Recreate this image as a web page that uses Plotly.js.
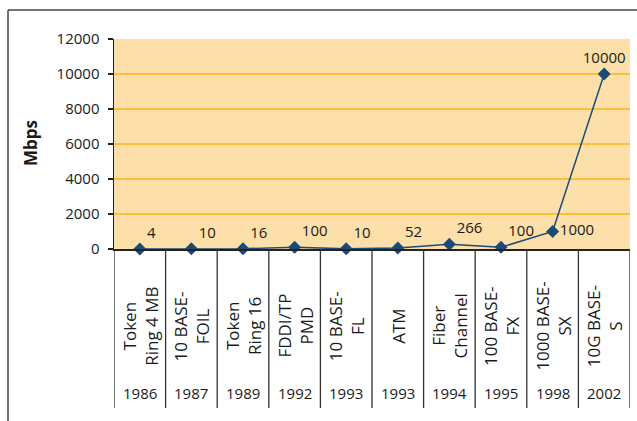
<!DOCTYPE html>
<html>
<head>
<meta charset="utf-8">
<script src="https://cdn.plot.ly/plotly-3.0.1.min.js"></script>
<style>html,body{margin:0;padding:0;background:#fff;}#chart{width:637px;height:421px;}</style>
</head>
<body>
<div id="chart"></div>
<script>
var names = ["Token<br>Ring 4 MB", "10 BASE-<br>FOIL", "Token<br>Ring 16", "FDDI/TP<br>PMD", "10 BASE-<br>FL", "ATM", "Fiber<br>Channel", "100 BASE-<br>FX", "1000 BASE-<br>SX", "10G BASE-<br>S"];
var years = ["1986", "1987", "1989", "1992", "1993", "1993", "1994", "1995", "1998", "2002"];
var mbps = [4, 10, 16, 100, 10, 52, 266, 100, 1000, 10000];
var yTicks = [0, 2000, 4000, 6000, 8000, 10000, 12000];

var idx = names.map(function(_, i){ return i; });
var positions = mbps.map(function(v, i){
  if (i === names.length - 1) return "top center";
  if (i === names.length - 2) return "middle right";
  return "top right";
});

var FONT = "Open Sans, Noto Sans, sans-serif";
var TXT = "#1a1a1a";
var trace = {
  x: idx, y: mbps, mode: "lines+markers+text", type: "scatter",
  text: mbps.map(String), textposition: positions,
  textfont: {family: FONT, size: 15, color: TXT},
  line: {color: "#1A4A7A", width: 1.5},
  marker: {symbol: "diamond", size: 10, color: "#1A4A7A"},
  cliponaxis: false, hoverinfo: "none"
};

var shapes = [];
var annotations = [];
var yLineBottom = (249 - 408) / 210;
for (var i = 0; i <= names.length; i++) {
  shapes.push({type: "line", xref: "x", yref: "paper", x0: i - 0.5, x1: i - 0.5, y0: 0, y1: yLineBottom,
    line: {color: "#333", width: 1.3}});
}
for (var j = 0; j < names.length; j++) {
  annotations.push({xref: "x", yref: "paper", x: j, y: (249 - 326) / 210, text: names[j], textangle: -90,
    showarrow: false, xanchor: "center", yanchor: "middle", align: "center",
    font: {family: FONT, size: 17, color: TXT}});
  annotations.push({xref: "x", yref: "paper", x: j, y: (249 - 393) / 210, text: years[j],
    showarrow: false, xanchor: "center", yanchor: "middle",
    font: {family: FONT, size: 15, color: TXT}});
}
annotations.push({xref: "paper", yref: "paper", x: (30 - 114) / 516, y: (249 - 143) / 210, text: "<b>Mbps</b>",
  textangle: -90, showarrow: false, xanchor: "center", yanchor: "middle",
  font: {family: FONT, size: 17, color: TXT}});
// outer frame (left and top edges)
var fx0 = (8 - 114) / 516, fx1 = (640 - 114) / 516, fyT = (249 - 10) / 210, fyB = (249 - 425) / 210;
shapes.push({type: "line", xref: "paper", yref: "paper", x0: fx0, x1: fx0, y0: fyB, y1: fyT, line: {color: "#444", width: 1.5}});
shapes.push({type: "line", xref: "paper", yref: "paper", x0: fx0, x1: fx1, y0: fyT, y1: fyT, line: {color: "#444", width: 1.5}});

var layout = {
  width: 637, height: 421,
  margin: {l: 114, r: 7, t: 39, b: 172, pad: 0},
  paper_bgcolor: "#ffffff", plot_bgcolor: "#FDDFA9",
  showlegend: false,
  xaxis: {range: [-0.5, names.length - 0.5], showticklabels: false, showgrid: false, zeroline: false,
    showline: true, linecolor: "#222", linewidth: 1.5, ticks: "", fixedrange: true},
  yaxis: {range: [0, 12000], tickvals: yTicks, ticktext: yTicks.map(String), showgrid: true,
    gridcolor: "#FBBF3A", gridwidth: 1.5, zeroline: false, showline: true, linecolor: "#222", linewidth: 1.5,
    ticks: "outside", ticklen: 5, tickcolor: "#222", tickwidth: 1.2, ticklabelstandoff: 5,
    tickfont: {family: FONT, size: 15, color: TXT}, fixedrange: true},
  shapes: shapes, annotations: annotations
};
Plotly.newPlot("chart", [trace], layout, {staticPlot: true, displayModeBar: false});
</script>
</body>
</html>
